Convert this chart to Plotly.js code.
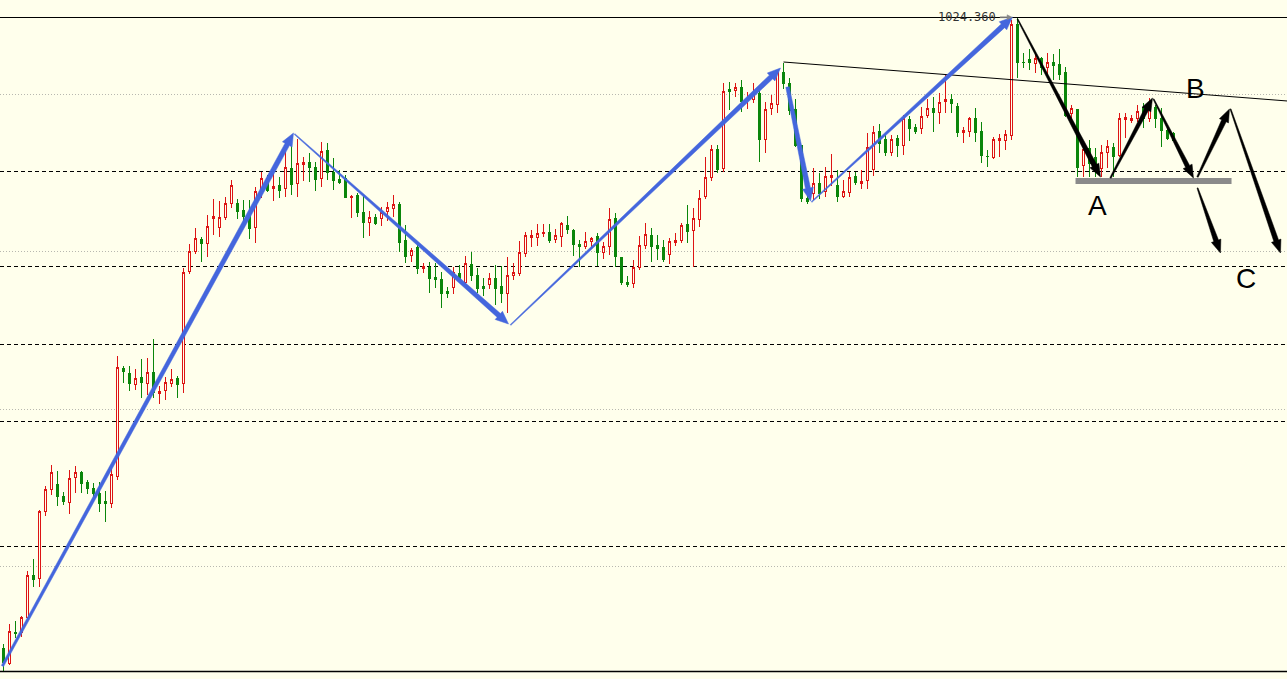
<!DOCTYPE html>
<html><head><meta charset="utf-8">
<script src="https://cdn.plot.ly/plotly-3.0.1.min.js"></script>
<style>html,body{margin:0;padding:0;background:#FFFFEC;overflow:hidden}
#chart .boxlayer path{shape-rendering:crispEdges}</style>
</head><body><div id="chart" style="width:1287px;height:679px"></div>
<script>
// OHLC values (price units)
const openP = [709,701.5,717,717,724.5,745.5,744,777.5,788.5,791,
785,782,794.5,797,792,789,786.5,782.5,781.5,795,
849,846.5,841,844.5,841.5,847,836.5,838,841.5,844,
841.5,897.5,907.5,913.5,911.5,924,919.5,924.5,931.5,931.5,
928,925.5,919.5,937.5,944,939,940.5,939,949,941.5,
951,952,949.5,944,958,947,943.5,944,934.5,935.5,
927,922,924.5,924,927.5,929,931,913,905.5,909.5,
899,899.5,894.5,893.5,887.5,889.5,896.5,892,901,895.5,
890,891,894,890,886.5,895.5,896.5,906.5,914.5,914.5,
916.5,917,913.5,915,920.5,918,911,910,912.5,915,
907,910,924,904.5,892,891.5,899.5,910.5,915.5,910.5,
909.5,906,912,913,921,918,923.5,935,944.5,958.5,
949,988.5,988,989.5,983,983.5,986.5,963.5,979,981,
997,991.5,978.5,960.5,934,936.5,941.5,937.5,944.5,940.5,
935,937,945,941.5,943,948.5,967.5,963.5,957,964,
960.5,973.5,969.5,969,975.5,979,977,982.5,983.5,980,
967,967.5,974,967.5,955,954.5,963,963,965.5,1021,
1002,1003.5,1001.5,1004,999.5,1002,1001,997,976.5,978.5,
950.5,959,954.5,949,957,959.5,955.5,973.5,973,974,
979.5,974,979.5,974,968,966.5];
const highP = [711,721,722.5,725,747.5,753.5,778,790,800.5,797.5,
787,798,800,797.5,793,791.5,792,787.5,798.5,855,
850,850,848.5,853.5,854,863.5,840,844.5,848.5,845,
899,911,919,914.5,925.5,933.5,932.5,934.5,943,933.5,
933,933,939.5,947,945.5,948,944.5,957,961.5,963.5,
954.5,956.5,952,962,961.5,954,948,945.5,935.5,936.5,
935.5,927.5,926,929.5,932,935.5,932,920.5,909,910.5,
901.5,902,901.5,897,889.5,899.5,900.5,905,907,899,
894,896.5,900.5,900,904.5,901.5,912.5,917,918,921,
921,921,918.5,922,925,918.5,913,917,914.5,916.5,
912,929,926.5,904.5,895,903,915,921.5,919,915.5,
913,914,916.5,921.5,930.5,929,938,954.5,960.5,960.5,
991.5,992,991.5,993,987,991.5,988,982,985.5,998,
1001.5,994,983.5,960.5,935.5,949,946.5,949.5,956,948,
943,947,947,948,966.5,970,971,965.5,965.5,965.5,
975.5,975,971,979.5,983.5,984.5,986.5,995.5,986,981.5,
969.5,974.5,979,972,958,964.5,966,968,1023,1024.36,
1006.5,1008.5,1006.5,1004.5,1006.5,1006,1008.5,999.5,980.5,978.5,
960.5,963,959,960.5,963,961.5,976.5,976.5,975.5,980.5,
981.5,984,980.5,979,969.5,967];
const lowP = [697.5,700.5,714,714.5,722,739.5,739.5,775,785.5,780,
780.5,776,786.5,786.5,786,784,777,772,779,793,
841.5,837.5,838,834,835.5,834,831,833,839.5,834,
836.5,896,906,902,904.5,915.5,914.5,923,929,923.5,
922.5,913.5,911.5,934,937,932.5,934,934.5,935.5,934.5,
942.5,942,937.5,939.5,943,938,941,934.5,924,924.5,
914,915,920.5,920,922.5,924.5,907,901.5,902,896,
896.5,886.5,889,879,884,886,891.5,890.5,892.5,886.5,
885,888.5,880.5,881.5,876.5,893,895,904.5,909.5,910,
914.5,911.5,911.5,909.5,916,905,899.5,908.5,909.5,900,
903.5,905.5,899.5,890.5,889.5,889,898,908.5,902,903,
902,901,910,911.5,911.5,899.5,919.5,933.5,942.5,946.5,
947,978,984.5,977,978.5,981.5,952,956.5,975.5,976.5,
988.5,975.5,959.5,932,931,933,933.5,934.5,940,932,
934,934.5,940.5,938.5,938.5,945,956.5,955,955,954.5,
955.5,962.5,966,966,974,967,971,976.5,976.5,964.5,
961.5,964.5,962,951.5,949.5,953.5,954.5,958,963,994,
999,998,996.5,995.5,996,993,993,974.5,973,944.5,
944.5,944.5,944.5,944.5,949,944.5,954.5,964,971.5,972,
969,972,969,959.5,963,962.5];
const closeP = [702,717.5,716.5,724.5,745.5,743.5,777.5,788.5,797,785,
782.5,794,797,791.5,789,786.5,781.5,781.5,796,849.5,
847.5,841.5,844,842,847,837,837.5,842,843.5,841,
897,907.5,914,911.5,920,925,924.5,931.5,940.5,927.5,
925,919,937.5,944,938,940,938,949.5,941,951.5,
952,949.5,943.5,957.5,947,943,942,934.5,935,927,
922,924.5,921.5,927,929.5,931,912,905,908,899,
900,894,893.5,886.5,886.5,897,893,901.5,895.5,889,
889,894,889,886.5,895.5,897,907,915.5,915.5,916.5,
917,913,915.5,921.5,918.5,911,910,912.5,914,907,
910,923.5,905,892,891,899.5,910.5,916,910,909,
903.5,912.5,913,920.5,917.5,924,934,944.5,958.5,948.5,
987.5,987.5,989.5,982.5,984,986,963.5,978.5,981.5,997,
991.5,978,960.5,934,932.5,941.5,936.5,945,945.5,935,
937.5,944.5,942,942.5,959.5,967,961.5,957,963.5,960.5,
974,969,967.5,975,979,977,982,983.5,981.5,967,
968,974,967,955.5,955,963.5,964,966,1021,1002,
1002,1002,1004,999.5,1002,1000.5,996,975.5,979,949.5,
958.5,951.5,949,957,960,955,974,974.5,974,977.5,
974,979,974,968,964,963];

// Reference price levels
const dashedLevels = [947.25, 899.75, 860.75, 822.25, 759.75];
const dottedLevels = [985.75, 907.25, 828.25, 749.75];
const highLevel = 1024.36;
const baseLevel = 697.25;
const highLabel = '1024.360';

// Drawn wave arrows (bar index, price)
const blueArrows = [
  {x0:-0.17, p0:700,   x1:48.33,  p1:966.5, w0:2.5, w1:5},
  {x0:48.5,  p0:966,   x1:84.17,  p1:871,   w0:1,   w1:5},
  {x0:84.5,  p0:870.5, x1:129.5,  p1:999,   w0:1,   w1:5},
  {x0:130.67,p0:989.5, x1:134.5,  p1:932.5, w0:3.5, w1:5},
  {x0:134.67,p0:932,   x1:168.17, p1:1024.5,w0:1,   w1:5}
];
const blackArrows = [
  {x0:169,    p0:1023.5, x1:182.83, p1:944.5, w0:1,   w1:5},
  {x0:184.5,  p0:944,    x1:191.5,  p1:984,   w0:1.5, w1:4.5},
  {x0:191.67, p0:983.5,  x1:198.33, p1:944,   w0:1,   w1:4.5},
  {x0:199,    p0:944.5,  x1:204.33, p1:978.5, w0:1.5, w1:5},
  {x0:199,    p0:939,    x1:202.83, p1:906.5, w0:1,   w1:5},
  {x0:204.5,  p0:978.5,  x1:212.83, p1:906.5, w0:1,   w1:5}
];
const trendLine = {x0:130, p0:1002, x1:214, p1:982.5};
const supportBar = {x0:178.67, x1:204.67, p:942.5};
const waveLabels = [
  {text:'A', x:182.33, p:930.5},
  {text:'B', x:198.67, p:989},
  {text:'C', x:207,    p:894}
];

const BG = '#FFFFEC', RED = '#DD1414', GREEN = '#0A860A', BLUE = '#4466DD';
const W = 1287, H = 679, XR = [-0.5833, 213.9167], YR = [693.5, 1033];
const idx = openP.map((_, i) => i);

function toPx(x, p){ return [(x - XR[0]) / (XR[1] - XR[0]) * W, (YR[1] - p) / (YR[1] - YR[0]) * H]; }
function toData(px, py){ return [XR[0] + px / W * (XR[1] - XR[0]), YR[1] - py / H * (YR[1] - YR[0])]; }
function arrowPath(a, headL, headW){
  const P0 = toPx(a.x0, a.p0), P1 = toPx(a.x1, a.p1);
  const dx = P1[0]-P0[0], dy = P1[1]-P0[1], len = Math.hypot(dx, dy);
  const ux = dx/len, uy = dy/len, nx = -uy, ny = ux;
  const Pb = [P1[0]-ux*headL, P1[1]-uy*headL];
  const pts = [
    [P0[0]+nx*a.w0/2, P0[1]+ny*a.w0/2],
    [Pb[0]+nx*a.w1/2, Pb[1]+ny*a.w1/2],
    [Pb[0]+nx*headW/2, Pb[1]+ny*headW/2],
    P1,
    [Pb[0]-nx*headW/2, Pb[1]-ny*headW/2],
    [Pb[0]-nx*a.w1/2, Pb[1]-ny*a.w1/2],
    [P0[0]-nx*a.w0/2, P0[1]-ny*a.w0/2]
  ];
  return 'M' + pts.map(q => { const d = toData(q[0], q[1]); return d[0].toFixed(4) + ',' + d[1].toFixed(4); }).join('L') + 'Z';
}

const shapes = [];
dottedLevels.forEach(v => shapes.push({type:'line', xref:'paper', x0:0, x1:1, yref:'y', y0:v, y1:v, layer:'below', line:{color:'#B8B8B0', width:1, dash:'1px,2px'}}));
dashedLevels.forEach(v => shapes.push({type:'line', xref:'paper', x0:0, x1:1, yref:'y', y0:v, y1:v, layer:'below', line:{color:'#000', width:1, dash:'4px,3px'}}));
shapes.push({type:'line', xref:'paper', x0:0, x1:1, yref:'y', y0:highLevel - 0.11, y1:highLevel - 0.11, line:{color:'#000', width:1}});
shapes.push({type:'line', xref:'paper', x0:0, x1:1, yref:'y', y0:baseLevel, y1:baseLevel, line:{color:'#000', width:1.3}});
shapes.push({type:'line', xref:'x', yref:'y', x0:trendLine.x0, y0:trendLine.p0, x1:trendLine.x1, y1:trendLine.p1, line:{color:'#000', width:1}});
shapes.push({type:'line', xref:'x', yref:'y', x0:supportBar.x0, x1:supportBar.x1, y0:supportBar.p, y1:supportBar.p, line:{color:'#8A8A8A', width:6}});
blueArrows.forEach(a => shapes.push({type:'path', xref:'x', yref:'y', path:arrowPath(a, 13, 11), fillcolor:BLUE, line:{color:BLUE, width:0.5}}));
blackArrows.forEach(a => shapes.push({type:'path', xref:'x', yref:'y', path:arrowPath(a, 13, 10), fillcolor:'#000', line:{color:'#000', width:0.5}}));
// small grey pointer after the high label
shapes.push({type:'path', xref:'x', yref:'y', path:arrowPath({x0:166.1, p0:highLevel, x1:168.1, p1:highLevel, w0:1, w1:1}, 5, 5), fillcolor:'#888', line:{color:'#888', width:0.5}});

const annotations = waveLabels.map(l => ({x:l.x, y:l.p, xref:'x', yref:'y', text:l.text, showarrow:false, xanchor:'center', yanchor:'middle', font:{family:'Liberation Sans, Arial, sans-serif', size:28, color:'#000'}}));
annotations.push({x:165.7, y:highLevel, xref:'x', yref:'y', text:highLabel, showarrow:false, xanchor:'right', yanchor:'middle', font:{family:'DejaVu Sans Mono, monospace', size:12, color:'#333'}});

const trace = {
  type:'candlestick', x:idx, open:openP, high:highP, low:lowP, close:closeP,
  increasing:{line:{color:RED, width:1}, fillcolor:BG},
  decreasing:{line:{color:GREEN, width:1}, fillcolor:GREEN},
  whiskerwidth:0, hoverinfo:'skip', showlegend:false
};

const layout = {
  width:W, height:H, margin:{l:0, r:0, t:0, b:0, pad:0},
  paper_bgcolor:BG, plot_bgcolor:BG, showlegend:false, boxgap:0.3333,
  xaxis:{range:XR, visible:false, showgrid:false, zeroline:false, rangeslider:{visible:false}, fixedrange:true},
  yaxis:{range:YR, visible:false, showgrid:false, zeroline:false, fixedrange:true},
  shapes:shapes, annotations:annotations
};
Plotly.newPlot('chart', [trace], layout, {displayModeBar:false, staticPlot:true});
</script></body></html>
